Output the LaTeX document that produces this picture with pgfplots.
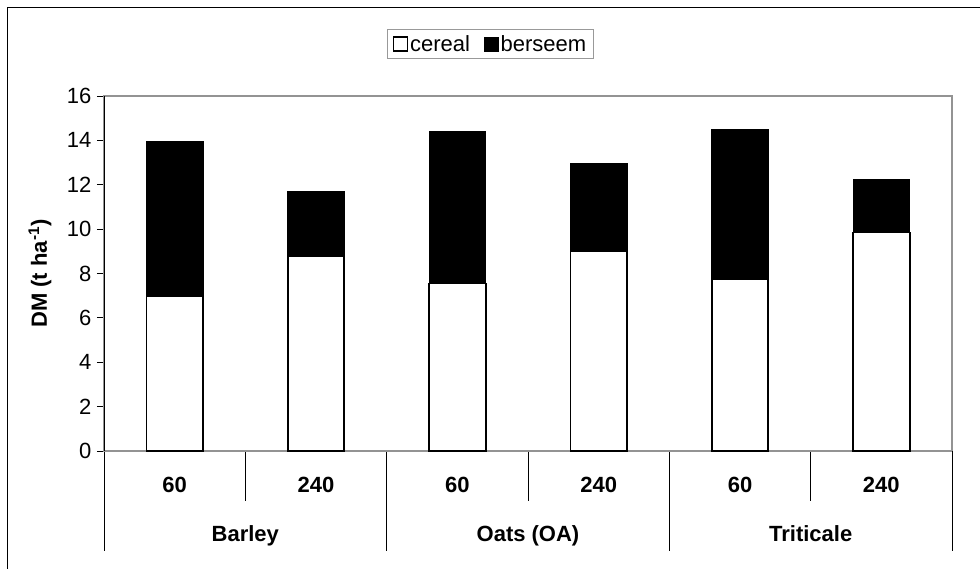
\documentclass[border=0pt]{standalone}
\usepackage{fontspec}
\setmainfont{Liberation Sans}
\usepackage{pgfplots}
\usepackage{pgfplotstable}
\pgfplotsset{compat=1.18}

\pgfplotstableread{
x cereal berseem
0 7.00 6.95
1 8.80 2.90
2 7.55 6.85
3 9.00 3.95
4 7.75 6.75
5 9.85 2.40
}\dmdata

\newcommand{\bigfont}{\fontsize{22}{25}\selectfont}

\begin{document}
\begin{tikzpicture}[x=1pt,y=1pt]
\useasboundingbox (0,0) rectangle (980,569);
\draw[line width=1pt] (7.5,0) -- (7.5,561.5) -- (980,561.5);
\begin{axis}[
    at={(104pt,118pt)}, anchor=south west,
    scale only axis,
    width=848pt, height=355pt,
    xmin=-0.5, xmax=5.5,
    ymin=0, ymax=16,
    ytick={0,2,...,16},
    xtick=\empty,
    ytick pos=left,
    tick align=outside,
    major tick length=7pt,
    every tick/.style={black, line width=0.8pt},
    axis line style={gray!85, line width=1.2pt},
    ybar stacked,
    bar width=0.4,
    clip=false,
    tick label style={font=\bigfont},
    yticklabel style={xshift=-2pt},
    /pgf/number format/assume math mode=true,
    ylabel={\textbf{DM (t ha\textsuperscript{-1})}},
    every axis y label/.style={at={(axis description cs:-0.0755,0.5)}, rotate=90, anchor=center, font=\bigfont},
    legend columns=2,
    legend style={at={(axis description cs:0.4558,1.1465)}, anchor=center,
        draw=gray!80, line width=0.8pt, font=\bigfont, inner xsep=5pt, inner ysep=4pt,
        /tikz/every even column/.append style={column sep=12pt}},
]
\addplot[fill=white, draw=black, line width=1.8pt,
    legend image code/.code={\draw[black, line width=1.3pt, fill=white] (0pt,-7pt) rectangle (14pt,7pt);}]
    table[x=x, y=cereal] {\dmdata};
\addlegendentry{cereal}
\addplot[fill=black, draw=black, line width=0.5pt,
    legend image code/.code={\draw[black, fill=black] (0pt,-7pt) rectangle (14pt,7pt);}]
    table[x=x, y=berseem] {\dmdata};
\addlegendentry{berseem}
\draw[black, line width=1pt] (axis cs:-0.5,0) -- (axis cs:-0.5,16);
\draw[gray!85, line width=1.2pt] (axis cs:-0.5,0) -- (axis cs:5.5,0);
% category axis: short dividers between doses, long ones between cereals
\draw[black, line width=0.6pt] (axis cs:0.5,0) -- ([yshift=-50pt]axis cs:0.5,0);
\draw[black, line width=0.6pt] (axis cs:2.5,0) -- ([yshift=-50pt]axis cs:2.5,0);
\draw[black, line width=0.6pt] (axis cs:4.5,0) -- ([yshift=-50pt]axis cs:4.5,0);
\draw[black, line width=0.6pt] (axis cs:-0.5,0) -- ([yshift=-100pt]axis cs:-0.5,0);
\draw[black, line width=0.6pt] (axis cs:1.5,0) -- ([yshift=-100pt]axis cs:1.5,0);
\draw[black, line width=0.6pt] (axis cs:3.5,0) -- ([yshift=-100pt]axis cs:3.5,0);
\draw[black, line width=0.6pt] (axis cs:5.5,0) -- ([yshift=-100pt]axis cs:5.5,0);
\node[font=\bigfont\bfseries, anchor=base] at ([yshift=-42pt]axis cs:0,0) {60};
\node[font=\bigfont\bfseries, anchor=base] at ([yshift=-42pt]axis cs:1,0) {240};
\node[font=\bigfont\bfseries, anchor=base] at ([yshift=-42pt]axis cs:2,0) {60};
\node[font=\bigfont\bfseries, anchor=base] at ([yshift=-42pt]axis cs:3,0) {240};
\node[font=\bigfont\bfseries, anchor=base] at ([yshift=-42pt]axis cs:4,0) {60};
\node[font=\bigfont\bfseries, anchor=base] at ([yshift=-42pt]axis cs:5,0) {240};
\node[font=\bigfont\bfseries, anchor=base] at ([yshift=-91pt]axis cs:0.5,0) {Barley};
\node[font=\bigfont\bfseries, anchor=base] at ([yshift=-91pt]axis cs:2.5,0) {Oats (OA)};
\node[font=\bigfont\bfseries, anchor=base] at ([yshift=-91pt]axis cs:4.5,0) {Triticale};
\end{axis}
\end{tikzpicture}
\end{document}
